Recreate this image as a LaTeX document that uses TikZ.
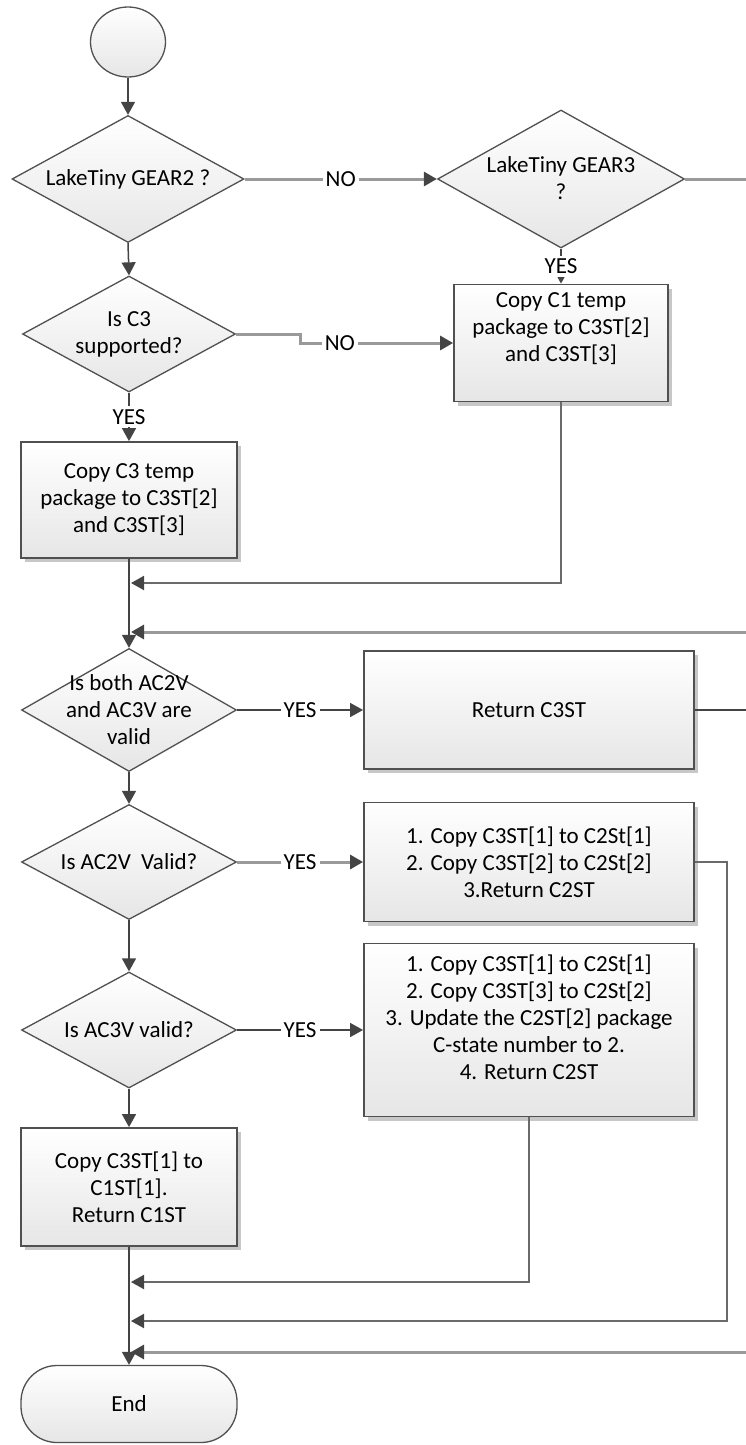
\documentclass[tikz,border=0pt]{standalone}
\usepackage{fontspec}
\setmainfont{Carlito}
\usetikzlibrary{arrows.meta,shapes.geometric,shadows}
\definecolor{edge}{HTML}{505050}
\definecolor{linedark}{HTML}{444444}
\definecolor{linemid}{HTML}{6A6A6A}
\definecolor{linegray}{HTML}{9A9A9A}
\definecolor{fillbot}{HTML}{E6E6E6}

\begin{document}
\begin{tikzpicture}[x=1pt,y=-1pt,
  font=\fontsize{23}{27}\selectfont,
  base/.style={draw=edge, top color=white, bottom color=fillbot, inner sep=0pt},
  dia/.style={base, diamond, line width=1.3pt},
  box/.style={base, rectangle, line width=1.8pt,
    drop shadow={shadow xshift=4pt, shadow yshift=-4pt, fill=black!22, opacity=1}},
  txt/.style={align=center, inner sep=0pt, text=black},
  lbl/.style={fill=white, inner sep=3pt, text=black},
  tip/.style={-{Triangle[length=13pt,width=14pt,color=linedark]}},
  flow/.style={draw=linedark, line width=1.5pt, tip},
  flowmid/.style={draw=linemid, line width=2pt, tip},
  flowgray/.style={draw=linegray, line width=3pt, tip},
  plain/.style={draw=linedark, line width=1.5pt},
  plaingray/.style={draw=linegray, line width=3pt}
]
\useasboundingbox (0,0) rectangle (746,1445);

% ---- shapes ----
\node[base, ellipse, line width=1.3pt, minimum width=75pt, minimum height=70pt] (start) at (128,42) {};

\node[dia, minimum width=232pt, minimum height=127pt] (d1) at (128,179) {};
\node[txt] (d1t) at (d1) {LakeTiny GEAR2 ?};

\node[dia, minimum width=247pt, minimum height=138pt] (d2) at (561,179) {};
\node[txt] (d2t) at (561,178) {LakeTiny GEAR3\\?};

\node[dia, minimum width=213pt, minimum height=116pt] (d3) at (129,334) {};
\node[txt] (d3t) at (d3) {Is C3\\supported?};

\node[box, minimum width=214pt, minimum height=117pt] (c1) at (561,343) {};
\node[txt] (c1t) at (561,329) {Copy C1 temp\\package to C3ST[2]\\and C3ST[3]};

\node[box, minimum width=216pt, minimum height=116pt] (c3) at (129,500) {};
\node[txt] (c3t) at (c3) {Copy C3 temp\\package to C3ST[2]\\and C3ST[3]};

\node[dia, minimum width=215pt, minimum height=123pt] (d4) at (129,710) {};
\node[txt] (d4t) at (d4) {Is both AC2V\\and AC3V are\\valid};

\node[box, minimum width=330pt, minimum height=118pt] (r3) at (529,710) {};
\node[txt] (r3t) at (r3) {Return C3ST};

\node[dia, minimum width=215pt, minimum height=115pt] (d5) at (129,862) {};
\node[txt] (d5t) at (d5) {Is AC2V\ \ Valid?};

\node[box, minimum width=330pt, minimum height=119pt] (b2) at (529,862) {};
\node[txt] (b2t) at (b2) {1. Copy C3ST[1] to C2St[1]\\2. Copy C3ST[2] to C2St[2]\\3.Return C2ST};

\node[dia, minimum width=215pt, minimum height=116pt] (d6) at (129,1030) {};
\node[txt] (d6t) at (d6) {Is AC3V valid?};

\node[box, minimum width=330pt, minimum height=173pt] (b3) at (529,1030) {};
\node[txt] (b3t) at (529,1017) {1. Copy C3ST[1] to C2St[1]\\2. Copy C3ST[3] to C2St[2]\\3. Update the C2ST[2] package\\C-state number to 2.\\4. Return C2ST};

\node[box, minimum width=216pt, minimum height=118pt] (c1st) at (129,1187) {};
\node[txt] (c1stt) at (c1st) {Copy C3ST[1] to\\C1ST[1].\\Return C1ST};

\node[base, rectangle, rounded corners=36pt, line width=1.3pt, minimum width=216pt, minimum height=77pt] (end) at (129,1404) {};
\node[txt] (endt) at (end) {End};

% ---- free ends and merge points ----
\coordinate (e1) at (746,179);
\coordinate (e2) at (746,632);
\coordinate (e3) at (746,710);
\coordinate (e4) at (746,1352);
\coordinate (m1) at (131,583);
\coordinate (m2) at (131,632);
\coordinate (m3) at (131,1282);
\coordinate (m4) at (131,1321);
\coordinate (m5) at (131,1352);

% ---- connectors ----
\draw[flow] (start) -- (d1);
\draw[flowgray] (d1.east) -- node[lbl] (no1) {NO} (d2.west);
\draw[plaingray] (d2.east) -- (e1);
\draw[flow] (d2.south) -- node[lbl] (yes1) {YES} (c1.north);
\draw[flow] (d1.south) -- (d3.north);
\draw[flowgray] (d3.east) -- ++(64,0) -- ++(0,9) -- node[lbl, pos=0.26] (no2) {NO} (c1.west);
\draw[flow] (d3.south) -- node[lbl] (yes2) {YES} (c3.north);
\draw[flow] (c3.south) -- (d4.north);
\draw[flowmid] (c1.south) |- (m1);
\draw[flowgray] (e2) -- (m2);
\draw[flow] (d4.east) -- node[lbl] (yes3) {YES} (r3.west);
\draw[plain] (r3.east) -- (e3);
\draw[flow] (d4.south) -- (d5.north);
\draw[flowgray] (d5.east) -- node[lbl] (yes4) {YES} (b2.west);
\draw[flowmid] (b2.east) -- ++(32,0) |- (m4);
\draw[flow] (d5.south) -- (d6.north);
\draw[flow] (d6.east) -- node[lbl] (yes5) {YES} (b3.west);
\draw[flowmid] (b3.south) |- (m3);
\draw[flow] (d6.south) -- (c1st.north);
\draw[flow] (c1st.south) -- (end.north);
\draw[flowgray] (e4) -- (m5);
\end{tikzpicture}
\end{document}
